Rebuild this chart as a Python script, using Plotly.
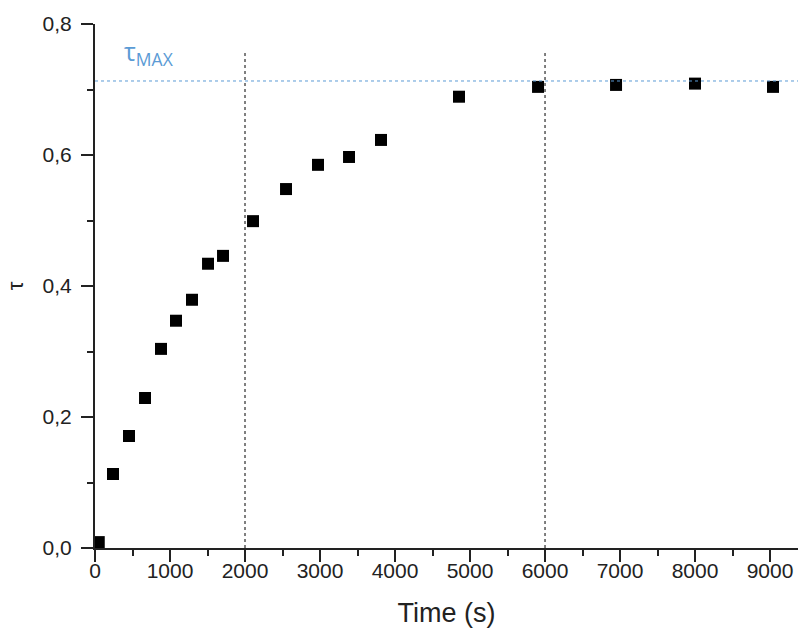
import plotly.graph_objects as go

# Data
time_s = [50, 240, 453, 667, 880, 1080, 1293, 1507, 1707, 2107, 2547, 2973, 3387, 3813,
          4853, 5907, 6947, 8000, 9040]
tau = [0.009, 0.113, 0.171, 0.229, 0.304, 0.347, 0.379, 0.434, 0.446, 0.499, 0.548, 0.585,
       0.597, 0.623, 0.689, 0.704, 0.707, 0.709, 0.704]

vline_x = [2000, 6000]
vline_top = 0.757
tau_max = 0.713
x_ticks = [0, 1000, 2000, 3000, 4000, 5000, 6000, 7000, 8000, 9000]
y_ticks = [0.0, 0.2, 0.4, 0.6, 0.8]
x_range = [0, 9373]
y_range = [0, 0.8]

fig = go.Figure()
fig.add_trace(go.Scatter(
    x=time_s, y=tau, mode="markers",
    marker=dict(symbol="square", size=12, color="black", line=dict(width=0)),
    showlegend=False,
))

for xv in vline_x:
    fig.add_shape(type="line", xref="x", yref="y", x0=xv, x1=xv, y0=0, y1=vline_top,
                  line=dict(color="black", width=1, dash="dot"))
fig.add_shape(type="line", xref="x", yref="y", x0=x_range[0], x1=x_range[1], y0=tau_max, y1=tau_max,
              line=dict(color="#5b9bd5", width=1, dash="dot"))

fig.add_annotation(x=360, y=tau_max + 0.012, xref="x", yref="y", text="τ<sub>MAX</sub>",
                   showarrow=False, xanchor="left", yanchor="bottom",
                   font=dict(family="Open Sans", size=25, color="#5b9bd5"))

axis_font = dict(family="Liberation Sans, Arial", size=21, color="#222")
fig.update_layout(
    width=798, height=628,
    margin=dict(l=95, r=0, t=24, b=80),
    paper_bgcolor="white", plot_bgcolor="white",
    separators=",.",
    xaxis=dict(
        range=x_range, tickvals=x_ticks, ticks="outside", ticklen=12, tickwidth=2,
        tickcolor="#222", showline=True, linewidth=2, linecolor="#222",
        showgrid=False, zeroline=False, tickfont=axis_font, ticklabelstandoff=-9,
        minor=dict(ticks="outside", ticklen=6, tickwidth=2, tickcolor="#222", dtick=500, tick0=0, showgrid=False),
        title=dict(text="Time (s)", font=dict(family="Liberation Sans, Arial", size=27, color="#222"), standoff=22),
        automargin=False,
    ),
    yaxis=dict(
        range=y_range, tickvals=y_ticks, tickformat=".1f", ticks="outside", ticklen=12, tickwidth=2,
        tickcolor="#222", showline=True, linewidth=2, linecolor="#222",
        showgrid=False, zeroline=False, tickfont=axis_font, ticklabelstandoff=5,
        minor=dict(ticks="outside", ticklen=6, tickwidth=2, tickcolor="#222", dtick=0.1, tick0=0, showgrid=False),
        title=dict(text="τ", font=dict(family="Liberation Sans, Arial", size=22, color="#222"), standoff=13),
        automargin=False,
    ),
)

fig.write_html("out.html",
               config={"displayModeBar": False},
               post_script="document.body.style.margin='0';document.body.style.overflow='hidden';")
